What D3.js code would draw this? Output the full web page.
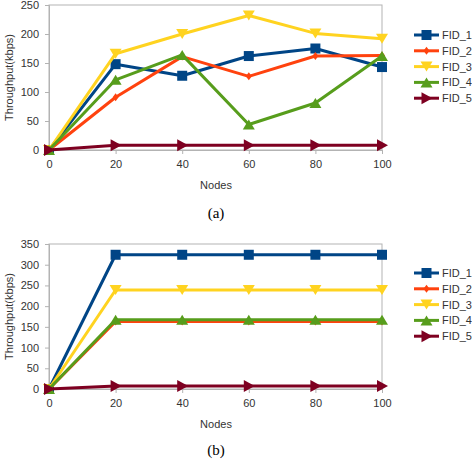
<!DOCTYPE html>
<html><head><meta charset="utf-8">
<script src="https://cdn.jsdelivr.net/npm/d3@7/dist/d3.min.js"></script>
<style>body{margin:0;background:#fff}svg{display:block}</style>
</head><body>
<svg id="c" width="472" height="460"></svg>
<script>
const nodes = [0, 20, 40, 60, 80, 100];
const seriesNames = ["FID_1", "FID_2", "FID_3", "FID_4", "FID_5"];
const colors = ["#004586", "#ff420e", "#ffd320", "#579d1c", "#7e0021"];
const symbolsKind = ["square", "diamond", "down", "up", "right"];
const valuesA = [
  [0, 148, 128, 162, 175, 143],
  [0, 91, 161, 127, 162, 163],
  [0, 166, 200, 232, 201, 192],
  [0, 121, 164, 44, 81, 162],
  [0, 8, 8, 8, 8, 8]
];
const valuesB = [
  [0, 324, 324, 324, 324, 324],
  [0, 163, 163, 163, 163, 163],
  [0, 239, 239, 239, 239, 239],
  [0, 167, 167, 167, 167, 167],
  [0, 7, 7, 7, 7, 7]
];
const yTicksA = [0, 50, 100, 150, 200, 250];
const yTicksB = [0, 50, 100, 150, 200, 250, 300, 350];
const xLabel = "Nodes";
const yLabel = "Throughput(kbps)";

const svg = d3.select("#c");

function marker(g, kind, x, y, color, s) {
  let path;
  if (kind === "square") path = `M${x-5},${y-5}h10v10h-10z`;
  else if (kind === "diamond") path = `M${x},${y-4}L${x+3},${y}L${x},${y+4}L${x-3},${y}z`;
  else if (kind === "down") path = `M${x-6},${y-5}L${x+6},${y-5}L${x},${y+5}z`;
  else if (kind === "up") path = `M${x-6},${y+5}L${x+6},${y+5}L${x},${y-5}z`;
  else path = `M${x-5},${y-6}L${x+6},${y}L${x-5},${y+6}z`;
  g.append("path").attr("d", path).attr("fill", color);
}

function chart(top, yMax, yTicks, values, caption, legendTop) {
  const g = svg.append("g");
  const x = d3.scaleLinear().domain([0, 100]).range([49, 382]);
  const y = d3.scaleLinear().domain([0, yMax]).range([top.bottom, top.top]);
  // plot frame
  g.append("rect").attr("x", 49).attr("y", top.top).attr("width", 333).attr("height", top.bottom - top.top)
    .attr("fill", "none").attr("stroke", "#b3b3b3").attr("stroke-width", 1);
  const ya = g.append("g").attr("transform", "translate(49,0)")
    .call(d3.axisLeft(y).tickValues(yTicks).tickSize(4).tickPadding(6));
  const xa = g.append("g").attr("transform", `translate(0,${top.bottom})`)
    .call(d3.axisBottom(x).tickValues(nodes).tickSize(4).tickPadding(6));
  [ya, xa].forEach(a => {
    a.select(".domain").attr("stroke", "#b3b3b3");
    a.selectAll(".tick line").attr("stroke", "#b3b3b3");
    a.selectAll("text").attr("font-family", "Liberation Sans, Arial, sans-serif").attr("font-size", 11).attr("fill", "#333");
  });
  g.append("text").attr("x", 216).attr("y", top.bottom + 39).attr("text-anchor", "middle")
    .attr("font-family", "Liberation Sans, Arial, sans-serif").attr("font-size", 11).attr("fill", "#333").text(xLabel);
  g.append("text").attr("transform", `translate(10,${(top.top + top.bottom) / 2}) rotate(-90)`)
    .attr("text-anchor", "middle").attr("dominant-baseline", "middle")
    .attr("font-family", "Liberation Sans, Arial, sans-serif").attr("font-size", 11).attr("fill", "#333").text(yLabel);
  const line = d3.line().x((d, i) => x(nodes[i])).y(d => y(d));
  values.forEach((vals, s) => {
    g.append("path").attr("d", line(vals)).attr("fill", "none").attr("stroke", colors[s])
      .attr("stroke-width", 3).attr("stroke-linejoin", "round");
    vals.forEach((v, i) => marker(g, symbolsKind[s], x(nodes[i]), y(v), colors[s]));
  });
  // legend
  seriesNames.forEach((n, s) => {
    const ly = legendTop + s * 15.8;
    g.append("line").attr("x1", 414).attr("x2", 439).attr("y1", ly).attr("y2", ly)
      .attr("stroke", colors[s]).attr("stroke-width", 3);
    marker(g, symbolsKind[s], 426.5, ly, colors[s]);
    g.append("text").attr("x", 442).attr("y", ly).attr("dominant-baseline", "central")
      .attr("font-family", "Liberation Sans, Arial, sans-serif").attr("font-size", 11).attr("fill", "#333").text(n);
  });
  g.append("text").attr("x", 216).attr("y", caption).attr("text-anchor", "middle")
    .attr("font-family", "Liberation Serif, Times New Roman, serif").attr("font-size", 15).attr("fill", "#000")
    .text(values === valuesA ? "(a)" : "(b)");
}

chart({top: 5, bottom: 150}, 250, yTicksA, valuesA, 218, 35);
chart({top: 244, bottom: 389}, 350, yTicksB, valuesB, 455, 273);
</script>
</body></html>
